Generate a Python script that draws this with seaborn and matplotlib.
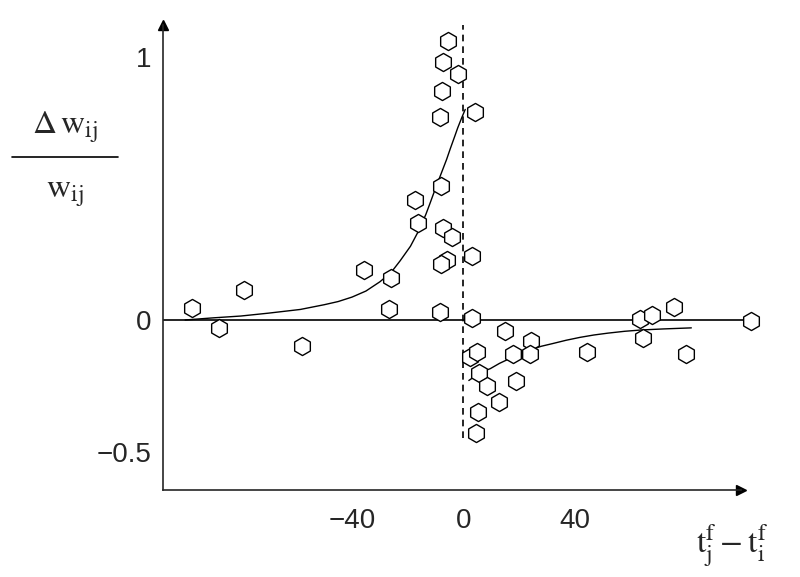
import matplotlib
matplotlib.use("Agg")
import matplotlib.pyplot as plt
import seaborn as sns
from matplotlib.lines import Line2D

sns.set_style("white")
plt.rcParams['font.family'] = ['Liberation Sans', 'DejaVu Sans']
plt.rcParams['mathtext.fontset'] = 'stix'

pts_x = [-97.5,-88,-79,-58,-35.6,-25.9,-26.6,-17.3,-16.2,-7.9,-8.3,-7.6,-7.2,-5.4,-1.8,4.3,-7.2,-4,-6,-7.9,-8.3,3.2,3.2,
         2.5,5,5.8,8.6,5.4,4.7,12.9,15,18,19,24.5,24,44.6,63.7,68,64.7,75.9,80.2,103.6]
pts_y = [0.046,-0.03,0.114,-0.10,0.19,0.16,0.04,0.456,0.37,0.51,0.77,0.87,0.98,1.06,0.935,0.79,0.35,0.316,0.228,0.213,0.03,0.243,0.008,
         -0.14,-0.12,-0.2,-0.25,-0.35,-0.43,-0.31,-0.04,-0.13,-0.23,-0.08,-0.13,-0.12,0.004,0.02,-0.07,0.05,-0.13,-0.004]
left_x = [-100,-90,-80,-70,-58.6,-50,-45,-40,-35,-30,-26,-22.7,-19,-16,-13.5,-11.9,-10,-8,-6,-4.7,-3,-2,-0.5,0.7]
left_y = [0.0,0.008,0.015,0.026,0.04,0.058,0.07,0.087,0.11,0.145,0.18,0.225,0.28,0.34,0.4,0.445,0.5,0.555,0.61,0.65,0.7,0.73,0.77,0.8]
right_x = [2,4,6,9.7,13,16,20,24,28,32,37,42,47,52,58,64,72,82]
right_y = [-0.23,-0.215,-0.2,-0.185,-0.165,-0.15,-0.13,-0.114,-0.1,-0.09,-0.077,-0.066,-0.057,-0.05,-0.043,-0.038,-0.034,-0.03]

fig = plt.figure(figsize=(8,5.77), dpi=100)
ax = fig.add_axes([0.204, 0.1508, 0.7575, 0.8146])
xmin, xmax, ymin, ymax = -107.9, 110, -0.646, 1.14
ax.set_xlim(xmin, xmax); ax.set_ylim(ymin, ymax)

ax.axhline(0, xmin=0, xmax=(104-xmin)/(xmax-xmin), color='black', lw=1.2)
ax.plot([0,0],[-0.45,1.12], color='black', lw=1.2, ls=(0,(4,3)))
sns.lineplot(x=left_x, y=left_y, ax=ax, color='black', lw=1)
sns.lineplot(x=right_x, y=right_y, ax=ax, color='black', lw=1)
sns.scatterplot(x=pts_x, y=pts_y, ax=ax, marker='h', s=170, facecolor='white',
                edgecolor='black', linewidth=1, zorder=5, clip_on=False)

for s in ['top','right']:
    ax.spines[s].set_visible(False)
ax.spines['left'].set_bounds(ymin, 1.12)
ax.spines['bottom'].set_bounds(xmin, 100)
ax.spines['left'].set_linewidth(1.2); ax.spines['bottom'].set_linewidth(1.2)
ax.plot([xmin],[1.12], marker='^', color='black', ms=7, clip_on=False)
ax.plot([100],[ymin], marker='>', color='black', ms=7, clip_on=False)

ax.set_xticks([-40,0,40]); ax.set_xticklabels(['\u221240','0','40'])
ax.set_yticks([1,0.5,0,-0.5]); ax.set_yticklabels(['1','','0','\u22120.5'])
ax.tick_params(axis='both', direction='inout', length=10, width=1.2, labelsize=20, color='black')
ax.tick_params(axis='x', pad=8)

fig.text(0.081, 0.78, r'$\Delta\,\mathrm{w_{ij}}$', fontsize=24, ha='center', va='center')
fig.add_artist(Line2D([0.015,0.148],[0.728,0.728], color='black', lw=1.2))
fig.text(0.081, 0.665, r'$\mathrm{w_{ij}}$', fontsize=24, ha='center', va='center')
fig.text(0.915, 0.055, r'$\mathrm{t_j^f - t_i^f}$', fontsize=24, ha='center', va='center')

fig.savefig('out.png', dpi=100)
